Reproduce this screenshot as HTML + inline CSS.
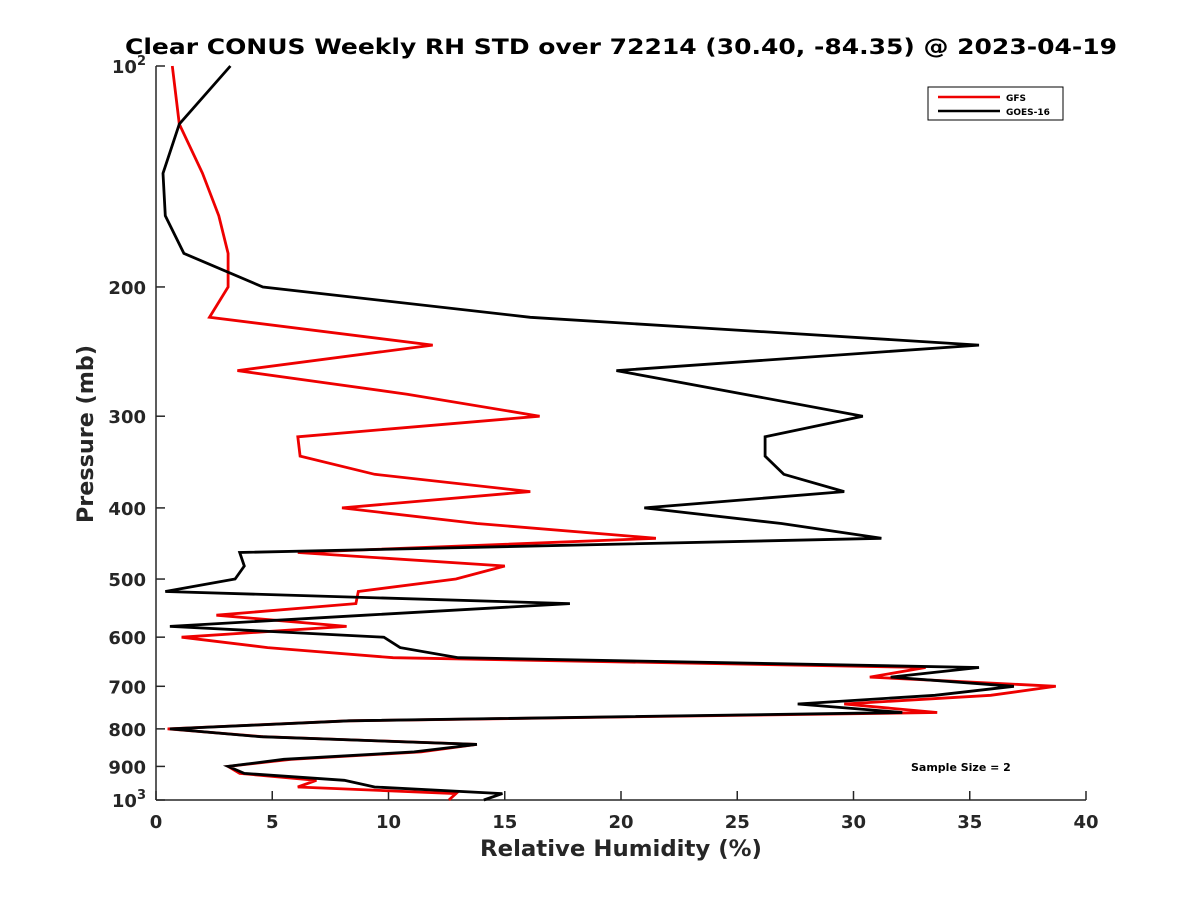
<!DOCTYPE html>
<html><head><meta charset="utf-8"><style>
body{margin:0;background:#fff}
svg{display:block;font-family:"DejaVu Sans","Liberation Sans",sans-serif}
</style></head><body>
<svg id="chart" width="1200" height="900">
<rect width="1200" height="900" fill="#fff"/>
<text x="621" y="54" text-anchor="middle" font-size="21" font-weight="bold" fill="#000" textLength="992" lengthAdjust="spacingAndGlyphs">Clear CONUS Weekly RH STD over 72214 (30.40, -84.35) @ 2023-04-19</text>
<g id="axes"></g>
<g id="series"></g>
<g>
<rect x="928" y="87" width="135" height="33" fill="#fff" stroke="#000" stroke-width="1"/>
<line x1="938" y1="97" x2="1000" y2="97" stroke="#e00" stroke-width="2.5"/>
<text x="1006" y="101" font-size="9" font-weight="bold">GFS</text>
<line x1="938" y1="111" x2="1000" y2="111" stroke="#000" stroke-width="2.5"/>
<text x="1006" y="115" font-size="9" font-weight="bold">GOES-16</text>
</g>
<text x="911" y="771" font-size="11" font-weight="bold">Sample Size = 2</text>
<text x="621" y="856" text-anchor="middle" font-size="22" font-weight="bold" fill="#262626" textLength="282" lengthAdjust="spacingAndGlyphs">Relative Humidity (%)</text>
<text transform="translate(93,434) rotate(-90)" text-anchor="middle" font-size="22" font-weight="bold" fill="#262626" textLength="178" lengthAdjust="spacingAndGlyphs">Pressure (mb)</text>
</svg>
<script>
const pressures = [100,120,140,160,180,200,220,240,260,280,300,320,340,360,380,400,420,440,460,480,500,520,540,560,580,600,620,640,660,680,700,720,740,760,780,800,820,840,860,880,900,920,940,960,980,1000];
const gfsRH = [0.7,1.0,2.0,2.7,3.1,3.1,2.3,11.9,3.5,10.8,16.5,6.1,6.2,9.4,16.1,8.0,13.8,21.5,6.1,15.0,12.9,8.7,8.6,2.6,8.2,1.1,4.8,10.2,33.1,30.7,38.7,35.9,29.6,33.6,8.3,0.5,4.6,13.8,11.4,5.8,3.1,3.6,6.9,6.1,12.9,12.6];
const goesRH = [3.2,1.0,0.3,0.4,1.2,4.6,16.1,35.4,19.8,25.3,30.4,26.2,26.2,27.0,29.6,21.0,26.9,31.2,3.6,3.8,3.4,0.4,17.8,9.0,0.6,9.8,10.5,13.0,35.4,31.6,36.9,33.5,27.6,32.1,8.3,0.6,4.5,13.8,11.1,5.5,3.1,3.8,8.1,9.4,14.9,14.1];
const xTicks = [0,5,10,15,20,25,30,35,40];
const yTicks = [100,200,300,400,500,600,700,800,900,1000];
const yTickLabels = ["10|2","200","300","400","500","600","700","800","900","10|3"];

const X0=156,X1=1086,Y0=66,Y1=800;
const xScale=v=>X0+(v-0)/(40-0)*(X1-X0);
const yScale=p=>Y0+(Math.log10(p)-2)*(Y1-Y0);
const NS="http://www.w3.org/2000/svg";
const axes=document.getElementById('axes');
const series=document.getElementById('series');
function mk(tag,attrs,parent){const e=document.createElementNS(NS,tag);for(const k in attrs)e.setAttribute(k,attrs[k]);parent.appendChild(e);return e;}

const xl=mk('line',{x1:X0,y1:Y1,x2:X1,y2:Y1,stroke:'#262626','stroke-width':1.5},axes);


const yl=mk('line',{x1:X0,y1:Y0,x2:X0,y2:Y1,stroke:'#262626','stroke-width':1.5},axes);



xTicks.forEach(v=>{
  const x=xScale(v);
  const t=mk('line',{x1:x,y1:Y1,x2:x,y2:Y1-9,stroke:'#262626','stroke-width':1.5},axes);
  
  
  const l=mk('text',{x:x,y:Y1+28,'text-anchor':'middle','font-size':18,'font-weight':'bold',fill:'#262626'},axes);
  l.textContent=v;
  
  
});
yTicks.forEach((p,i)=>{
  const y=yScale(p);
  const t=mk('line',{x1:X0,y1:y,x2:X0+9,y2:y,stroke:'#262626','stroke-width':1.5},axes);
  
  
  const l=mk('text',{x:X0-10,y:y+7,'text-anchor':'end','font-size':18,'font-weight':'bold',fill:'#262626'},axes);
  const parts=yTickLabels[i].split('|');
  if(parts.length>1){
    const a=mk('tspan',{},l);a.textContent=parts[0];
    const b=mk('tspan',{dy:-8,'font-size':13},l);b.textContent=parts[1];
  } else l.textContent=parts[0];
  
  
});

function drawLine(vals,color,name){
  const pts=vals.map((v,i)=>xScale(v).toFixed(1)+','+yScale(pressures[i]).toFixed(1)).join(' ');
  const pl=mk('polyline',{points:pts,fill:'none',stroke:color,'stroke-width':2.8,'stroke-linejoin':'miter'},series);
  
  
}
drawLine(gfsRH,'#e00','gfs-line');
drawLine(goesRH,'#000','goes16-line');
</script>
</body></html>
